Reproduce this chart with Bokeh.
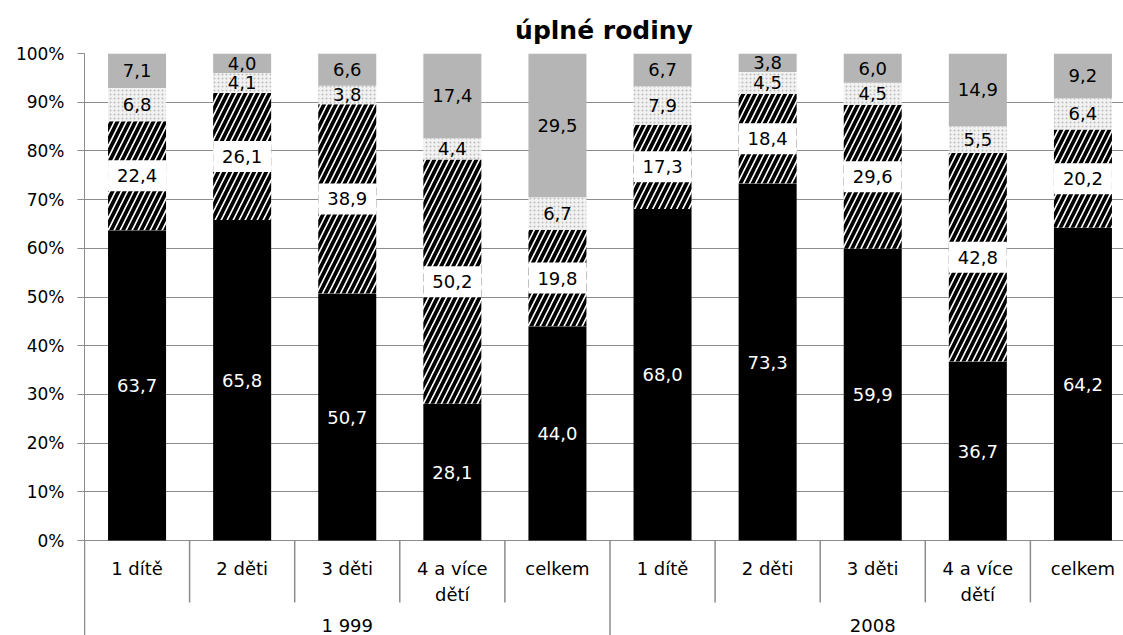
import numpy as np
from bokeh.plotting import figure
from bokeh.models import Range1d, FixedTicker, NumeralTickFormatter
from bokeh.core.properties import value
from bokeh.embed import file_html
from bokeh.resources import INLINE

# ---- data ----
groups = ["1 999", "2008"]
categories = ["1 dítě", "2 děti", "3 děti", "4 a více\ndětí", "celkem"]
s_black = [63.7, 65.8, 50.7, 28.1, 44.0, 68.0, 73.3, 59.9, 36.7, 64.2]
s_hatch = [22.4, 26.1, 38.9, 50.2, 19.8, 17.3, 18.4, 29.6, 42.8, 20.2]
s_dots = [6.8, 4.1, 3.8, 4.4, 6.7, 7.9, 4.5, 4.5, 5.5, 6.4]
s_gray = [7.1, 4.0, 6.6, 17.4, 29.5, 6.7, 3.8, 6.0, 14.9, 9.2]
y_ticks = [0.0, 0.1, 0.2, 0.3, 0.4, 0.5, 0.6, 0.7, 0.8, 0.9, 1.0]

FONT = value("DejaVu Sans")
GRID = "#8c8c8c"

n_cat = len(categories)
n = n_cat * len(groups)
xs = np.arange(n) + 0.5
raw = np.array([s_black, s_hatch, s_dots, s_gray], dtype=float)
norm = raw / raw.sum(axis=0)
tops = np.cumsum(norm, axis=0)
bottoms = tops - norm
mids = (tops + bottoms) / 2

BAR_W = 0.552

p = figure(width=1123, height=635, output_backend="svg", toolbar_location=None,
           x_range=Range1d(0, 9.886), y_range=Range1d(-0.195, 1.0),
           min_border_left=84, min_border_right=0, min_border_top=53,
           min_border_bottom=0)
p.outline_line_color = None
p.xaxis.visible = False
p.xgrid.visible = False
p.background_fill_color = "white"
p.border_fill_color = "white"

p.title.text = "úplné rodiny"
p.title.align = "center"
p.title.text_font = "DejaVu Sans"
p.title.text_font_size = "25px"
p.title.text_font_style = "bold"
p.title.text_color = "black"
p.title.standoff = 17

yaxis = p.yaxis[0]
yaxis.ticker = FixedTicker(ticks=y_ticks)
yaxis.formatter = NumeralTickFormatter(format="0%")
yaxis.major_tick_in = 0
yaxis.major_tick_out = 7
yaxis.minor_tick_line_color = None
yaxis.axis_line_color = GRID
yaxis.major_tick_line_color = GRID
yaxis.major_label_text_font = "DejaVu Sans"
yaxis.major_label_text_font_size = "17px"
yaxis.major_label_text_color = "black"
yaxis.major_label_standoff = 13

p.ygrid.ticker = FixedTicker(ticks=y_ticks)
p.ygrid.grid_line_color = GRID
p.ygrid.grid_line_width = 1

# bars
p.vbar(x=xs, width=BAR_W, bottom=bottoms[0], top=tops[0], fill_color="black", line_color=None)
p.vbar(x=xs, width=BAR_W, bottom=bottoms[1], top=tops[1], fill_color="white",
       hatch_pattern="/", hatch_color="black", hatch_scale=12, hatch_weight=3.8, line_color=None)
p.vbar(x=xs, width=BAR_W, bottom=bottoms[2], top=tops[2], fill_color="#f2f2f2",
       hatch_pattern=".", hatch_color="#bdbdbd", hatch_scale=4, hatch_weight=1, line_color=None)
p.vbar(x=xs, width=BAR_W, bottom=bottoms[3], top=tops[3], fill_color="#b5b5b5", line_color=None)

def fmt(v):
    return f"{v:.1f}".replace(".", ",")

# white boxes behind hatched labels
p.rect(x=xs, y=mids[1], width=BAR_W, height=31, height_units="screen",
       fill_color="white", line_color=None)

label_colors = ["white", "black", "black", "black"]
for k, series in enumerate([s_black, s_hatch, s_dots, s_gray]):
    p.text(x=xs, y=mids[k], text=[fmt(v) for v in series], text_align="center",
           text_baseline="middle", text_font=FONT, text_font_size="18px",
           text_color=label_colors[k])

# category axis labels (drawn below 0)
cat_labels = categories * len(groups)
p.text(x=xs, y=[-0.036] * n, text=cat_labels, text_align="center", text_baseline="top",
       text_font=FONT, text_font_size="18px", text_color="black", text_line_height=1.25)
gx = np.arange(len(groups)) * n_cat + n_cat / 2
p.text(x=gx, y=[-0.1745] * len(groups), text=groups, text_align="center",
       text_baseline="middle", text_font=FONT, text_font_size="18px", text_color="black")

# separators
cat_b = [b for b in range(1, n) if b % n_cat != 0]
grp_b = [b for b in range(0, n + 1) if b % n_cat == 0]
p.segment(x0=cat_b, y0=[0] * len(cat_b), x1=cat_b, y1=[-0.127] * len(cat_b),
          line_color=GRID, line_width=1.5)
p.segment(x0=grp_b, y0=[0] * len(grp_b), x1=grp_b, y1=[-0.195] * len(grp_b),
          line_color=GRID, line_width=1.5)

open("out.html", "w").write(file_html(p, INLINE))
